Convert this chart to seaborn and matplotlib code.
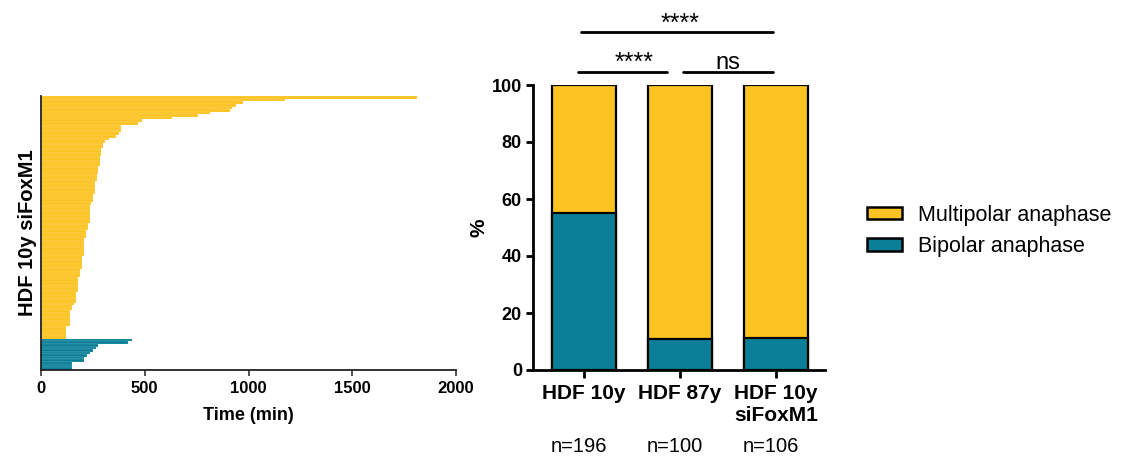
import numpy as np
import pandas as pd
import matplotlib
matplotlib.use("Agg")
import matplotlib.pyplot as plt
from matplotlib.patches import Patch
import seaborn as sns

# ---------------- data ----------------
multipolar_times = [1810, 1176, 975, 938, 920, 910, 815, 757, 630, 487, 466,
                    386, 386, 386, 377, 360, 328, 308, 297, 297,
                    289, 289, 289, 284, 284, 284, 284, 276, 276, 276,
                    268, 268, 268, 260, 260, 260, 260, 260, 252, 252, 252,
                    239, 236, 236, 236, 236, 236, 236, 236, 228, 228, 228,
                    217, 217, 217, 209, 209, 209, 209, 209, 209, 209,
                    199, 199, 199, 199, 199, 188, 188, 188,
                    180, 180, 180, 180, 180, 180, 169, 169, 169, 169, 159,
                    148, 148, 140, 140, 140, 140, 140, 140,
                    119, 119, 119, 119, 119]
bipolar_times = [437, 418, 276, 265, 252, 236, 220, 209, 209, 148, 148, 148]

groups = ["HDF 10y", "HDF 87y", "HDF 10y\nsiFoxM1"]
bipolar_pct = [55.1, 11.0, 11.3]
multipolar_pct = [44.9, 89.0, 88.7]
n_labels = ["n=196", "n=100", "n=106"]
series_names = ["Multipolar anaphase", "Bipolar anaphase"]

YELLOW = "#FCC322"
TEAL = "#0A7F97"

sns.set_theme(style="white")
plt.rcParams["font.family"] = ["Liberation Sans", "DejaVu Sans"]
plt.rcParams["text.color"] = "black"
plt.rcParams["axes.labelcolor"] = "black"
plt.rcParams["xtick.color"] = "black"
plt.rcParams["ytick.color"] = "black"

fig = plt.figure(figsize=(11.37, 4.57), dpi=100)

# ---------------- left panel ----------------
axL = fig.add_axes([41/1137, 1-370/457, (456-41)/1137, (370-96)/457])
times = multipolar_times + bipolar_times
kinds = [series_names[0]] * len(multipolar_times) + [series_names[1]] * len(bipolar_times)
dfL = pd.DataFrame({"cell": [f"c{i}" for i in range(len(times))],
                    "time": times, "kind": kinds})
sns.barplot(data=dfL, y="cell", x="time", hue="kind", orient="h",
            palette={series_names[0]: YELLOW, series_names[1]: TEAL},
            saturation=1, width=1.0, dodge=False,
            edgecolor=(1, 1, 1, 0.3), linewidth=0.3,
            legend=False, ax=axL)
axL.set_xlim(0, 2000)
axL.set_ylim(len(times) - 0.4, -0.6)
axL.set_xticks([0, 500, 1000, 1500, 2000])
axL.set_xticklabels(["0", "500", "1000", "1500", "2000"], fontsize=12, fontweight="bold")
axL.set_yticks([])
axL.set_xlabel("Time (min)", fontsize=13, fontweight="bold", labelpad=8)
axL.set_ylabel("HDF 10y siFoxM1", fontsize=14.5, fontweight="bold", labelpad=3)
for s in ["top", "right"]:
    axL.spines[s].set_visible(False)
for s in ["left", "bottom"]:
    axL.spines[s].set_color("#222222")
    axL.spines[s].set_linewidth(1.3)
axL.tick_params(axis="x", which="both", bottom=True, length=4, width=1.1,
                color="#222222", pad=4)

# ---------------- right panel ----------------
axR = fig.add_axes([533/1137, 1-370/457, (825-533)/1137, (370-85)/457])
totals = [b + m for b, m in zip(bipolar_pct, multipolar_pct)]
dfR = pd.DataFrame({"group": groups, "total": totals, "bipolar": bipolar_pct})
sns.barplot(data=dfR, x="group", y="total", color=YELLOW, saturation=1,
            width=0.667, edgecolor="black", linewidth=1.6, ax=axR)
sns.barplot(data=dfR, x="group", y="bipolar", color=TEAL, saturation=1,
            width=0.667, edgecolor="black", linewidth=1.6, ax=axR)
axR.set_ylim(0, 100)
axR.set_xlim(-0.53, 2.51)
axR.set_yticks([0, 20, 40, 60, 80, 100])
axR.set_yticklabels(["0", "20", "40", "60", "80", "100"], fontsize=13, fontweight="bold")
axR.set_xticklabels(groups, fontsize=15, fontweight="bold")
axR.set_xlabel("")
axR.set_ylabel("%", fontsize=15, fontweight="bold", labelpad=2)
for s in ["top", "right"]:
    axR.spines[s].set_visible(False)
for s in ["left", "bottom"]:
    axR.spines[s].set_color("black")
    axR.spines[s].set_linewidth(2)
axR.tick_params(axis="y", left=True, length=5, width=2, color="black", pad=3)
axR.tick_params(axis="x", bottom=True, length=6, width=2, color="black", pad=4)

# n labels
for i, t in enumerate(n_labels):
    axR.text(i - 0.05, -0.27, t, transform=axR.get_xaxis_transform(),
             ha="center", va="center", fontsize=14.5)

# significance brackets
lw = 2.0
axR.plot([-0.066, 0.87], [104.5, 104.5], color="black", lw=lw, clip_on=False)
axR.plot([1.03, 1.97], [104.5, 104.5], color="black", lw=lw, clip_on=False)
axR.plot([-0.03, 1.97], [118.7, 118.7], color="black", lw=lw, clip_on=False)
axR.text(0.52, 105.2, "****", ha="center", va="baseline", fontsize=18)
axR.text(1.5, 105.6, "ns", ha="center", va="baseline", fontsize=17)
axR.text(1.005, 119.1, "****", ha="center", va="baseline", fontsize=18)

# legend
handles = [Patch(facecolor=YELLOW, edgecolor="black", linewidth=1.8),
           Patch(facecolor=TEAL, edgecolor="black", linewidth=1.8)]
fig.legend(handles, series_names, loc="center left",
           bbox_to_anchor=(867/1137, 1-231/457), frameon=False,
           fontsize=15.5, handlelength=1.63, handleheight=0.55,
           handletextpad=0.72, labelspacing=0.5, borderaxespad=0,
           borderpad=0)

fig.savefig("out.png", dpi=100)
